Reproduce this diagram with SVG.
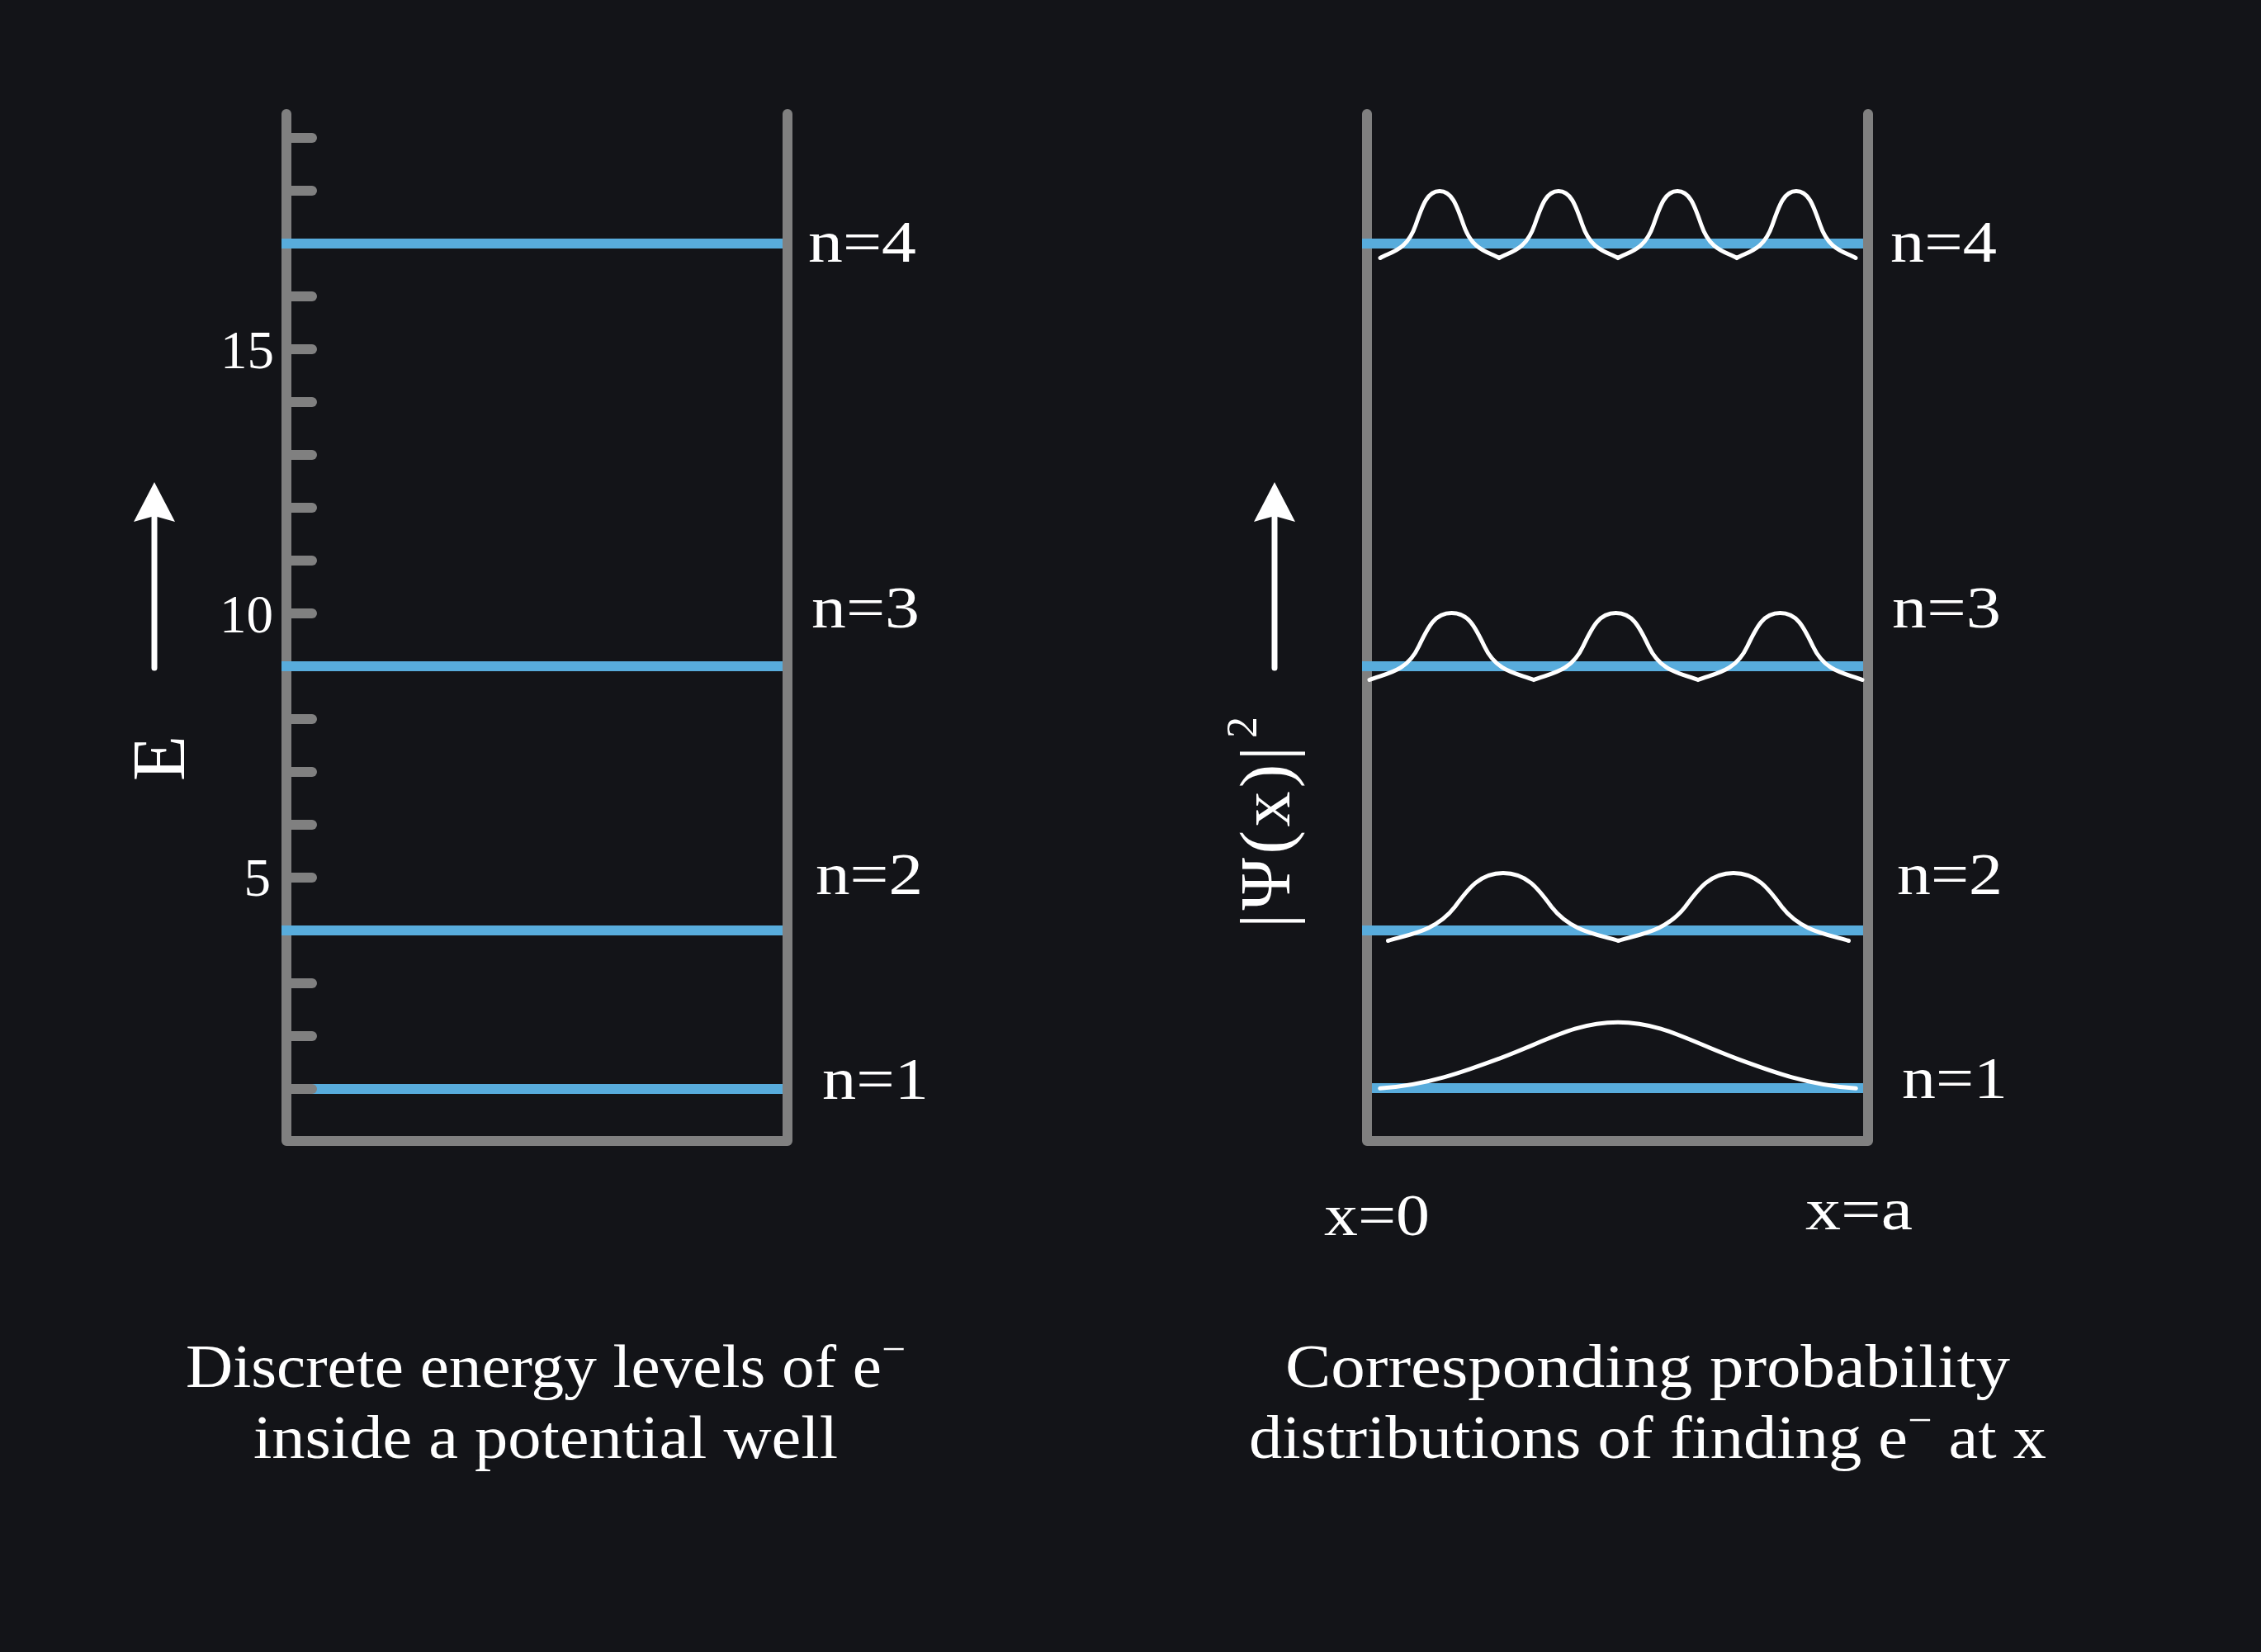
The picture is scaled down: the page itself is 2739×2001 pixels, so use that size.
<svg xmlns="http://www.w3.org/2000/svg" width="2739" height="2001" viewBox="0 0 2739 2001">
<style>
.bg{fill:#131418}
.wall{fill:none;stroke:#808080;stroke-width:12;stroke-linecap:round;stroke-linejoin:round}
.tick{stroke:#808080;stroke-width:12;stroke-linecap:round}
.level{stroke:#58acdc;stroke-width:12;stroke-linecap:butt}
.psi{fill:none;stroke:#ffffff;stroke-width:5;stroke-linecap:round;stroke-linejoin:miter}
.shaft{stroke:#ffffff;stroke-width:7;stroke-linecap:round}
.head{fill:#ffffff}
.t{font-family:"Liberation Serif","DejaVu Serif",serif;fill:#ffffff}
.n{font-size:72px}
.num{font-size:65px}
.cap{font-size:74px}
.sup{font-size:48px}
</style>
<rect class="bg" x="0" y="0" width="2739" height="2001"/>

<g id="left-well">
  <path class="wall" d="M347,138 V1382 H954 V138"/>
  <g id="left-ticks">
    <line class="tick" x1="347" y1="1255" x2="378" y2="1255"/>
    <line class="tick" x1="347" y1="1191" x2="378" y2="1191"/>
    <line class="tick" x1="347" y1="1127" x2="378" y2="1127"/>
    <line class="tick" x1="347" y1="1063" x2="378" y2="1063"/>
    <line class="tick" x1="347" y1="999" x2="378" y2="999"/>
    <line class="tick" x1="347" y1="935" x2="378" y2="935"/>
    <line class="tick" x1="347" y1="871" x2="378" y2="871"/>
    <line class="tick" x1="347" y1="807" x2="378" y2="807"/>
    <line class="tick" x1="347" y1="743" x2="378" y2="743"/>
    <line class="tick" x1="347" y1="679" x2="378" y2="679"/>
    <line class="tick" x1="347" y1="615" x2="378" y2="615"/>
    <line class="tick" x1="347" y1="551" x2="378" y2="551"/>
    <line class="tick" x1="347" y1="487" x2="378" y2="487"/>
    <line class="tick" x1="347" y1="423" x2="378" y2="423"/>
    <line class="tick" x1="347" y1="359" x2="378" y2="359"/>
    <line class="tick" x1="347" y1="295" x2="378" y2="295"/>
    <line class="tick" x1="347" y1="231" x2="378" y2="231"/>
    <line class="tick" x1="347" y1="167" x2="378" y2="167"/>
  </g>
  <g id="left-levels">
    <line class="level" x1="341" y1="295" x2="948" y2="295"/>
    <line class="level" x1="341" y1="807" x2="948" y2="807"/>
    <line class="level" x1="341" y1="1127" x2="948" y2="1127"/>
    <line class="level" x1="353" y1="1319" x2="948" y2="1319"/>
  </g>
  <line class="tick" x1="347" y1="1319" x2="378" y2="1319"/>
  <g id="left-axis-labels">
    <text class="t num" x="332" y="446" text-anchor="end">15</text>
    <text class="t num" x="331" y="766" text-anchor="end">10</text>
    <text class="t num" x="328" y="1085" text-anchor="end">5</text>
  </g>
  <g id="left-level-labels">
    <text class="t n" x="979" y="317" textLength="131" lengthAdjust="spacingAndGlyphs">n=4</text>
    <text class="t n" x="983" y="760" textLength="131" lengthAdjust="spacingAndGlyphs">n=3</text>
    <text class="t n" x="988" y="1083" textLength="130" lengthAdjust="spacingAndGlyphs">n=2</text>
    <text class="t n" x="996" y="1331" textLength="129" lengthAdjust="spacingAndGlyphs">n=1</text>
  </g>
</g>

<g id="energy-axis">
  <line class="shaft" x1="187" y1="626" x2="187" y2="809"/>
  <polygon class="head" points="187,584 212,632 187,625 162,632"/>
  <text class="t" font-size="90" transform="translate(223,946) rotate(-90)" x="0" y="0">E</text>
</g>

<g id="right-well">
  <path class="wall" d="M1656,138 V1382 H2263 V138"/>
  <g id="right-levels">
    <line class="level" x1="1650" y1="295" x2="2257" y2="295"/>
    <line class="level" x1="1650" y1="807" x2="2257" y2="807"/>
    <line class="level" x1="1650" y1="1127" x2="2257" y2="1127"/>
    <line class="level" x1="1662" y1="1318" x2="2257" y2="1318"/>
  </g>
  <g id="probability-curves">
    <path class="psi" d="M1672,312.5 C1686.4,304.4 1704.4,303.6 1715.2,272 C1723.8,246.9 1729.6,231.5 1744,231.5 C1758.4,231.5 1764.2,246.9 1772.8,272 C1783.6,303.6 1801.6,304.4 1816,312.5 C1830.4,304.4 1848.4,303.6 1859.2,272 C1867.8,246.9 1873.6,231.5 1888,231.5 C1902.4,231.5 1908.2,246.9 1916.8,272 C1927.6,303.6 1945.6,304.4 1960,312.5 C1974.4,304.4 1992.4,303.6 2003.2,272 C2011.8,246.9 2017.6,231.5 2032,231.5 C2046.4,231.5 2052.2,246.9 2060.8,272 C2071.6,303.6 2089.6,304.4 2104,312.5 C2118.4,304.4 2136.4,303.6 2147.2,272 C2155.8,246.9 2161.6,231.5 2176,231.5 C2190.4,231.5 2196.2,246.9 2204.8,272 C2215.6,303.6 2233.6,304.4 2248,312.5"/>
    <path class="psi" d="M1659,823.5 C1678.9,815.4 1703.8,814.6 1718.7,783 C1730.6,757.9 1738.6,742.5 1758.5,742.5 C1778.4,742.5 1786.4,757.9 1798.3,783 C1813.2,814.6 1838.1,815.4 1858,823.5 C1877.9,815.4 1902.8,814.6 1917.7,783 C1929.6,757.9 1937.6,742.5 1957.5,742.5 C1977.4,742.5 1985.4,757.9 1997.3,783 C2012.2,814.6 2037.1,815.4 2057,823.5 C2076.9,815.4 2101.8,814.6 2116.7,783 C2128.6,757.9 2136.6,742.5 2156.5,742.5 C2176.4,742.5 2184.4,757.9 2196.3,783 C2211.2,814.6 2236.1,815.4 2256,823.5"/>
    <path class="psi" d="M1681.5,1139.5 C1709.4,1131.3 1740.1,1127.2 1762.4,1098.5 C1779.2,1075.5 1793.1,1057.5 1821,1057.5 C1848.9,1057.5 1862.9,1075.5 1879.6,1098.5 C1901.9,1127.2 1932.6,1131.3 1960.5,1139.5 C1988.4,1131.3 2019.1,1127.2 2041.4,1098.5 C2058.2,1075.5 2072.1,1057.5 2100,1057.5 C2127.9,1057.5 2141.9,1075.5 2158.6,1098.5 C2180.9,1127.2 2211.6,1131.3 2239.5,1139.5"/>
    <path class="psi" d="M1671.7,1318.3 C1729.4,1314.3 1772.6,1298.3 1815.9,1282.3 C1873.5,1260.9 1908.1,1238.3 1960,1238.3 C2011.9,1238.3 2046.5,1260.9 2104.2,1282.3 C2147.4,1298.3 2190.6,1314.3 2248.3,1318.3"/>
  </g>
  <g id="right-level-labels">
    <text class="t n" x="2290" y="317" textLength="129" lengthAdjust="spacingAndGlyphs">n=4</text>
    <text class="t n" x="2292" y="760" textLength="132" lengthAdjust="spacingAndGlyphs">n=3</text>
    <text class="t n" x="2298" y="1083" textLength="128" lengthAdjust="spacingAndGlyphs">n=2</text>
    <text class="t n" x="2304" y="1330" textLength="128" lengthAdjust="spacingAndGlyphs">n=1</text>
  </g>
  <g id="x-labels">
    <text class="t n" x="1604" y="1496" textLength="128" lengthAdjust="spacingAndGlyphs">x=0</text>
    <text class="t n" x="2187" y="1489" textLength="130" lengthAdjust="spacingAndGlyphs">x=a</text>
  </g>
</g>

<g id="probability-axis">
  <line class="shaft" x1="1544" y1="626" x2="1544" y2="809"/>
  <polygon class="head" points="1544,584 1569,632 1544,625 1519,632"/>
  <g transform="translate(1562,1124) rotate(-90)">
    <text class="t" font-size="86" x="0" y="0" textLength="220" lengthAdjust="spacing">|Ψ(x)|</text>
    <text class="t" font-size="52" x="230" y="-40">2</text>
  </g>
</g>

<g id="captions">
  <text class="t cap" x="225" y="1680" textLength="872" lengthAdjust="spacingAndGlyphs">Discrete energy levels of e<tspan class="sup" dy="-30">−</tspan></text>
  <text class="t cap" x="307" y="1766" textLength="708" lengthAdjust="spacingAndGlyphs">inside a potential well</text>
  <text class="t cap" x="1557" y="1680" textLength="878" lengthAdjust="spacingAndGlyphs">Corresponding probability</text>
  <text class="t cap" x="1513" y="1766" textLength="966" lengthAdjust="spacingAndGlyphs">distributions of finding e<tspan class="sup" dy="-30">−</tspan><tspan dy="30"> at x</tspan></text>
</g>
</svg>
